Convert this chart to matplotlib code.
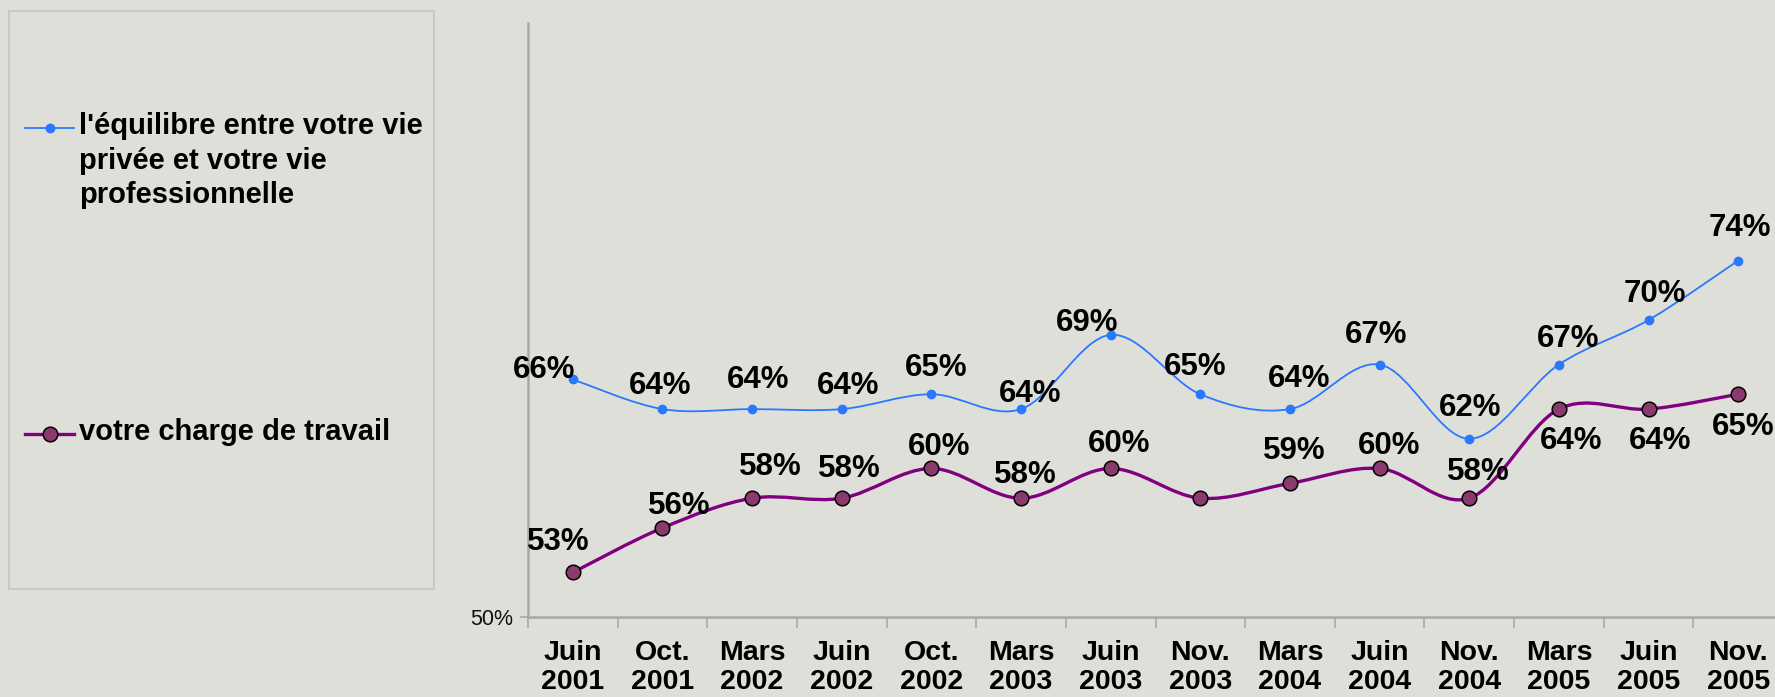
import matplotlib
matplotlib.use("Agg")
import matplotlib.pyplot as plt
from matplotlib.path import Path
from matplotlib.patches import PathPatch, Rectangle
from matplotlib.lines import Line2D
import numpy as np

# survey waves
periodes = ["Juin\n2001", "Oct.\n2001", "Mars\n2002", "Juin\n2002", "Oct.\n2002",
            "Mars\n2003", "Juin\n2003", "Nov.\n2003", "Mars\n2004", "Juin\n2004",
            "Nov.\n2004", "Mars\n2005", "Juin\n2005", "Nov.\n2005"]

equilibre = [66, 64, 64, 64, 65, 64, 69, 65, 64, 67, 62, 67, 70, 74]
charge = [53, 56, 58, 58, 60, 58, 60, 58, 59, 60, 58, 64, 64, 65]

nom_equilibre = "l'équilibre entre votre vie\nprivée et votre vie\nprofessionnelle"
nom_charge = "votre charge de travail"

# label offsets in pixels (dx, dy), None = label hidden
decal_equilibre = [(-29, 9), (-2, 23), (6, 29), (6, 23), (5, 26), (9, 15), (-24, 12),
                   (-5, 27), (9, 30), (-3, 30), (1, 31), (9, 26), (6, 26), (2, 33)]
decal_charge = [(-15, 30), (17, 22), (18, 31), (8, 29), (8, 21), (4, 23), (8, 24),
                None, (4, 32), (10, 22), (9, 26), (12, -32), (12, -32), (5, -33)]

FOND = "#dfdfda"
BLEU = "#2a78ff"
VIOLET = "#800080"
GRIS = "#a8a8a4"
FONT = "Liberation Sans"


def courbe_lissee(xs, ys):
    # bezier path through the points, like excel's smoothed lines
    pts = np.column_stack([xs, ys]).astype(float)
    n = len(pts)
    verts = [pts[0]]
    codes = [Path.MOVETO]
    for i in range(n - 1):
        p0 = pts[i - 1] if i > 0 else pts[i]
        p1 = pts[i]
        p2 = pts[i + 1]
        p3 = pts[i + 2] if i + 2 < n else pts[i + 1]
        c1 = p1 + (p2 - p0) / 6.0
        c2 = p2 - (p3 - p1) / 6.0
        verts += [c1, c2, p2]
        codes += [Path.CURVE4] * 3
    return Path(verts, codes)


fig = plt.figure(figsize=(17.75, 6.97), dpi=100, facecolor=FOND)
W, H = 1775, 697
ax = fig.add_axes([528 / W, 80 / H, (1783 - 528) / W, (617 - 23) / H])
ax.set_facecolor(FOND)

x = np.arange(len(periodes))

ax.add_patch(PathPatch(courbe_lissee(x, equilibre), fill=False, edgecolor=BLEU, lw=1.3, zorder=3))
ax.plot(x, equilibre, ls="none", marker="o", ms=6, color=BLEU, mec=BLEU, zorder=4)

ax.add_patch(PathPatch(courbe_lissee(x, charge), fill=False, edgecolor=VIOLET, lw=2.4, zorder=3))
ax.plot(x, charge, ls="none", marker="o", ms=10.5, mfc="#8b3a6e", mec="black", mew=1.1, zorder=4)

for xi, v, d in zip(x, equilibre, decal_equilibre):
    ax.annotate(f"{v}%", (xi, v), xytext=d, textcoords="offset pixels", ha="center", va="center",
                fontsize=22.5, fontweight="bold", family=FONT, color="black", zorder=5)
for xi, v, d in zip(x, charge, decal_charge):
    if d is None:
        continue
    ax.annotate(f"{v}%", (xi, v), xytext=d, textcoords="offset pixels", ha="center", va="center",
                fontsize=22.5, fontweight="bold", family=FONT, color="black", zorder=5)

ax.set_xlim(-0.5, len(periodes) - 0.5)
ax.set_ylim(50, 90)

for s in ["top", "right"]:
    ax.spines[s].set_visible(False)
for s in ["left", "bottom"]:
    ax.spines[s].set_color(GRIS)
    ax.spines[s].set_linewidth(1.8)

ax.set_yticks([50])
ax.set_yticklabels(["50%"], fontsize=15.5, family=FONT, color="#111111")
ax.tick_params(axis="y", length=6, width=1.2, color=GRIS, pad=5)

ax.set_xticks(x)
ax.set_xticklabels(periodes, fontsize=20.5, fontweight="bold", family=FONT, linespacing=1.17)
ax.set_xticks(np.arange(len(periodes) + 1) - 0.5, minor=True)
ax.tick_params(axis="x", which="major", length=0, pad=16.5)
ax.tick_params(axis="x", which="minor", length=8, width=1.2, color=GRIS)

# legend box drawn by hand (excel style: handle on the first text line)
fig.add_artist(Rectangle((9 / W, 1 - 589 / H), 425 / W, 578 / H, transform=fig.transFigure,
                         fill=False, edgecolor="#c4c4c0", lw=1.2))
for yp, col, lw, ms, mfc, mec, nom in [(128, BLEU, 1.3, 6, BLEU, BLEU, nom_equilibre),
                                       (434, VIOLET, 2.4, 10.5, "#8b3a6e", "black", nom_charge)]:
    yf = 1 - yp / H
    fig.add_artist(Line2D([25 / W, 74 / W], [yf, yf], transform=fig.transFigure, color=col, lw=lw))
    fig.add_artist(Line2D([50 / W], [yf], transform=fig.transFigure, ls="none", marker="o",
                          ms=ms, mfc=mfc, mec=mec, mew=1.1))
    fig.text(79 / W, 1 - (yp - 16) / H, nom, ha="left", va="top", fontsize=21, fontweight="bold",
             family=FONT, linespacing=1.3)

fig.savefig("out.png", dpi=100, facecolor=FOND)
